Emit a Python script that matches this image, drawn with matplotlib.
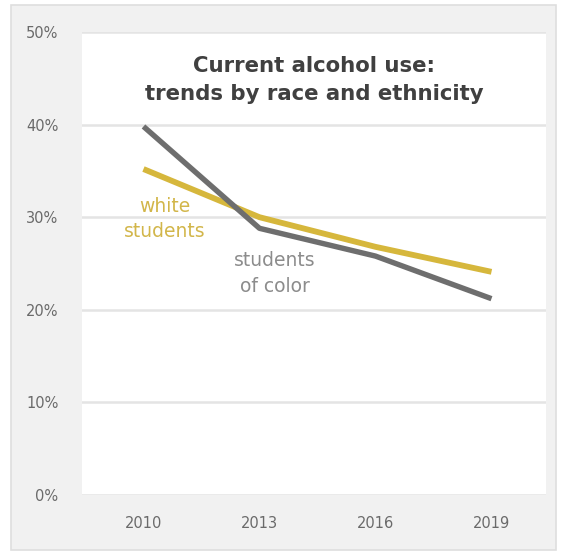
import matplotlib
matplotlib.use("Agg")
import matplotlib.pyplot as plt
from matplotlib.patches import Rectangle
from matplotlib.ticker import FuncFormatter

years = ["2010", "2013", "2016", "2019"]
white_students = [35.2, 30.0, 26.8, 24.1]
students_of_color = [39.8, 28.8, 25.8, 21.2]
y_ticks = [0, 10, 20, 30, 40, 50]

W, H = 567, 552
fig = plt.figure(figsize=(W / 100, H / 100), dpi=100)
fig.patch.set_facecolor("white")

# outer gray panel
panel = Rectangle((11 / W, 1 - 550 / H), (556 - 11) / W, (550 - 5) / H,
                  transform=fig.transFigure, facecolor="#f1f1f1",
                  edgecolor="#dedede", linewidth=1.2, zorder=-10)
fig.patches.append(panel)

left, right, top, bottom = 82, 546, 32, 495
ax = fig.add_axes([left / W, 1 - bottom / H, (right - left) / W, (bottom - top) / H])
ax.set_zorder(1)
ax.set_facecolor("white")

x = list(range(len(years)))
gray = "#6e6e6e"
gold = "#d6b73c"
ax.plot(x, white_students, color=gold, lw=4.2, solid_capstyle="butt", zorder=3)
ax.plot(x, students_of_color, color=gray, lw=3.9, solid_capstyle="butt", zorder=4)

ax.set_xlim(-0.53, 3.47)
ax.set_ylim(0, 50)
ax.set_yticks(y_ticks)
ax.yaxis.set_major_formatter(FuncFormatter(lambda v, p: f"{int(v)}%"))
ax.set_xticks(x)
ax.set_xticklabels(years)
ax.grid(axis="y", color="#e4e4e4", lw=1.8, zorder=1)
ax.set_axisbelow(True)
for s in ax.spines.values():
    s.set_visible(False)
ax.tick_params(axis="both", length=0, labelsize=10.5, labelcolor="#6a6a6a")
ax.tick_params(axis="y", pad=17)
ax.tick_params(axis="x", pad=15)

ax.text(0.5, (bottom - 80) / (bottom - top),
        "Current alcohol use:\ntrends by race and ethnicity",
        transform=ax.transAxes, ha="center", va="center", fontsize=15.3,
        fontweight="bold", color="#404040", linespacing=1.55)

ax.text(0.18, 29.8, "white\nstudents", ha="center", va="center",
        fontsize=13.5, color="#d2b64a", linespacing=1.45)
ax.text(1.13, 23.9, "students\nof color", ha="center", va="center",
        fontsize=13.5, color="#8c8c8c", linespacing=1.45)

fig.savefig("out.png", dpi=100, facecolor=fig.get_facecolor())
